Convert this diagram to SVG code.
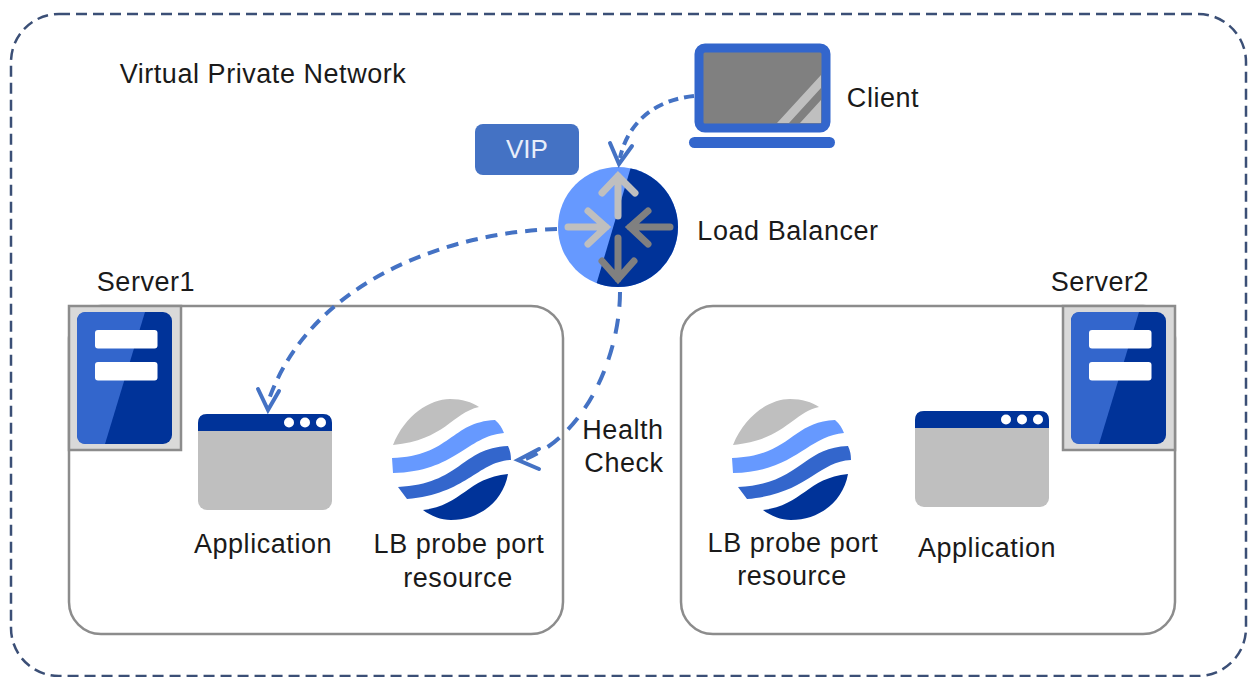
<svg xmlns="http://www.w3.org/2000/svg" width="1248" height="677" viewBox="0 0 1248 677">
<style>
text{font-family:"Liberation Sans",Arial,sans-serif;font-size:27px;letter-spacing:.55px;fill:#1a1a1a;text-anchor:middle}
.box{fill:#fff;stroke:#8c8c8c;stroke-width:2.5}
.tag{fill:#d9d9d9;stroke:#8c8c8c;stroke-width:2.5}
.dk{fill:#003399}.md{fill:#3366cc}.lt{fill:#6699ff}.gr{fill:#bfbfbf}.g2{fill:#808080}.wh{fill:#fff}
.flow{fill:none;stroke:#4472c4;stroke-width:4}
.head{fill:none;stroke:#4472c4;stroke-width:4;stroke-linecap:round;stroke-linejoin:miter}
.al{fill:none;stroke:#bfbfbf;stroke-width:7;stroke-linecap:round;stroke-linejoin:miter}
.ad{fill:none;stroke:#808080;stroke-width:7;stroke-linecap:round;stroke-linejoin:miter}
</style>
<defs>
<clipPath id="lbclip"><circle cx="618" cy="227" r="60"/></clipPath>
<g id="srv">
<rect width="95" height="132" rx="9" class="dk"/>
<path class="md" d="M9 0H68L28 132H9Q0 132 0 123V9Q0 0 9 0Z"/>
<rect x="18" y="18" width="62.500" height="18.500" rx="3" class="wh"/>
<rect x="18" y="50" width="62.500" height="18.500" rx="3" class="wh"/>
</g>
<g id="app">
<rect width="134" height="96" rx="9" class="gr"/>
<path class="dk" d="M0 17V9Q0 0 9 0H125Q134 0 134 9V17Z"/>
<circle cx="91" cy="8.500" r="5" class="wh"/><circle cx="107" cy="8.500" r="5" class="wh"/><circle cx="123" cy="8.500" r="5" class="wh"/>
</g>
<g id="probe">
<path class="gr" d="M2 45C14 15 39 -1 59 -1C71 -1 81 2 88 7C61 13 54 40 2 45Z"/>
<path class="lt" d="M1 58C60 56 60 22 104 20Q110 25 113 33C76 36 64 72 2 73Z"/>
<path class="md" d="M7 87C70 84 70 48 117 46Q120 52 120 60C86 62 76 94 16 99Z"/>
<path class="dk" d="M32 110C72 105 76 78 117 74C112 102 88 120 60 120C50 120 40 116 32 110Z"/>
</g>
</defs>
<g id="vpn">
<rect x="11" y="14" width="1235" height="662" rx="48" fill="none" stroke="#3b4f76" stroke-width="2.500" stroke-dasharray="11 6"/>
<text x="263" y="83">Virtual Private Network</text>
</g>
<g id="server1">
<rect class="box" x="69" y="306" width="494" height="328" rx="32"/>
<rect class="tag" x="69" y="306" width="112" height="144"/>
<use href="#srv" x="77" y="312"/>
<text x="146" y="291">Server1</text>
</g>
<g id="server2">
<rect class="box" x="681" y="306" width="494" height="328" rx="32"/>
<rect class="tag" x="1063" y="306" width="112" height="144"/>
<use href="#srv" x="1071" y="312"/>
<text x="1100" y="291">Server2</text>
</g>
<g id="app1"><use href="#app" x="198" y="414"/><text x="263" y="553">Application</text></g>
<g id="app2"><use href="#app" x="915" y="411"/><text x="987" y="557">Application</text></g>
<g id="probe1"><use href="#probe" x="391" y="400"/><text x="459" y="553">LB probe port</text><text x="458" y="587">resource</text></g>
<g id="probe2"><use href="#probe" x="731" y="400"/><text x="793" y="552">LB probe port</text><text x="792" y="585">resource</text></g>
<g id="client">
<rect x="699" y="48" width="127" height="80" rx="6" fill="#808080" stroke="#3366cc" stroke-width="9"/>
<path class="gr" d="M777 123L821 75V88L789 123ZM800 123L821 100V123Z"/>
<rect x="689" y="137" width="146" height="11" rx="5.500" class="md"/>
<text x="883" y="107">Client</text>
</g>
<g id="vip">
<rect x="475" y="124" width="104" height="51" rx="8" fill="#4472c4"/>
<text x="527" y="158" style="fill:#e8eefa;font-size:26px;letter-spacing:0">VIP</text>
</g>
<g id="lb">
<g clip-path="url(#lbclip)">
<rect x="550" y="160" width="140" height="140" class="lt"/>
<path class="dk" d="M633 160L594 292H690V160Z"/>
</g>
<path class="al" d="M618 216V176M602 193L618 176L635 193"/>
<path class="al" d="M568 227H606M588 211L606 227L588 244"/>
<path class="ad" d="M670 227H630M648 211L630 227L648 244"/>
<path class="ad" d="M618 238V279M602 261L618 279L634 261"/>
<text x="788" y="240">Load Balancer</text>
</g>
<g id="connectors">
<path class="flow" stroke-dasharray="10 6" d="M694 96C655 100 628 122 620 158"/>
<path class="head" d="M610 143L619 164L632 146"/>
<path class="flow" stroke-dasharray="12 8" d="M557 229C450 232 310 280 268 402"/>
<path class="head" d="M258 389L268 410L279 391"/>
<path class="flow" stroke-dasharray="15 12" d="M620 292C620 350 590 432 526 459"/>
<path class="head" d="M539 449L518 460L539 469"/>
</g>
<g id="health"><text x="623" y="439">Health</text><text x="624" y="472">Check</text></g>
</svg>
